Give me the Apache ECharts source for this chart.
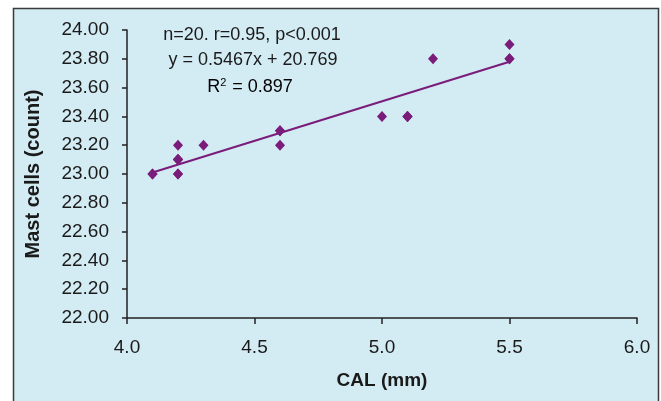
<!DOCTYPE html>
<html>
<head>
<meta charset="utf-8">
<script src="https://cdn.jsdelivr.net/npm/echarts@6/dist/echarts.min.js"></script>
<style>
  html, body { margin: 0; padding: 0; background: #fff; }
  #chart { width: 661px; height: 401px; }
</style>
</head>
<body>
<div id="chart"></div>
<script>
// CAL (mm) vs mast cell count, n = 20 (some points overlap)
var calValues = [4.1, 4.1, 4.2, 4.2, 4.2, 4.2, 4.2, 4.3, 4.6, 4.6, 4.6, 5.0, 5.1, 5.1, 5.2, 5.5, 5.5, 5.5, 4.2, 5.1];
var mastValues = [23.0, 23.0, 23.2, 23.1, 23.1, 23.0, 23.0, 23.2, 23.3, 23.3, 23.2, 23.4, 23.4, 23.4, 23.8, 23.9, 23.8, 23.8, 23.1, 23.4];
// trendline end points
var trendX = [4.1, 5.5];
var trendY = [23.01, 23.78];
var noteLines = ['n=20. r=0.95, p<0.001', 'y = 0.5467x + 20.769'];

var purple = '#7a1c7a';
var fontFamily = 'Liberation Sans, Arial, sans-serif';

var myChart = echarts.init(document.getElementById('chart'));

var option = {
    backgroundColor: '#fff',
    animation: false,
    textStyle: { fontFamily: fontFamily },
    grid: { left: 127, right: 24, top: 30, bottom: 83 },
    graphic: [
        {
            type: 'rect',
            z: -10,
            silent: true,
            shape: { x: 13.5, y: 8.5, width: 645, height: 400 },
            style: { fill: '#d3ebf3', stroke: '#3a3a3a', lineWidth: 1.5 }
        },
        {
            type: 'text', x: 252, y: 35, z: 10,
            style: { text: noteLines[0], font: '18px ' + fontFamily, fill: '#1a1a1a', align: 'center', verticalAlign: 'middle' }
        },
        {
            type: 'text', x: 253, y: 60, z: 10,
            style: { text: noteLines[1], font: '18px ' + fontFamily, fill: '#1a1a1a', align: 'center', verticalAlign: 'middle' }
        },
        {
            type: 'text', x: 250, y: 87, z: 10,
            style: {
                text: '{n|R}{s|2}{n| = 0.897}',
                align: 'center', verticalAlign: 'middle',
                rich: {
                    n: { fontSize: 18, fontFamily: fontFamily, color: '#1a1a1a' },
                    s: { fontSize: 11, fontFamily: fontFamily, color: '#1a1a1a', verticalAlign: 'top', padding: [0, 1, 9, 0] }
                }
            }
        }
    ],
    xAxis: {
        type: 'value',
        min: 4.0,
        max: 6.0,
        interval: 0.5,
        name: 'CAL (mm)',
        nameLocation: 'middle',
        nameGap: 53,
        nameTextStyle: { fontSize: 19, fontWeight: 'bold', color: '#1a1a1a' },
        splitLine: { show: false },
        axisLine: { lineStyle: { color: '#222', width: 1.5 } },
        axisTick: { show: true, length: 6, lineStyle: { color: '#222', width: 1.5 } },
        axisLabel: {
            fontSize: 19, color: '#1a1a1a', margin: 20,
            formatter: function (v) { return v.toFixed(1); }
        }
    },
    yAxis: {
        type: 'value',
        min: 22.0,
        max: 24.0,
        interval: 0.2,
        name: 'Mast cells (count)',
        nameLocation: 'middle',
        nameGap: 84,
        nameTextStyle: { fontSize: 20, fontWeight: 'bold', color: '#1a1a1a' },
        splitLine: { show: false },
        axisLine: { show: true, lineStyle: { color: '#222', width: 1.5 } },
        axisTick: { show: true, length: 5, lineStyle: { color: '#222', width: 1.5 } },
        axisLabel: {
            fontSize: 19, color: '#1a1a1a', margin: 18,
            formatter: function (v) { return v.toFixed(2); }
        }
    },
    series: [
        {
            type: 'line',
            data: trendX.map(function (x, i) { return [x, trendY[i]]; }),
            symbol: 'none',
            lineStyle: { color: purple, width: 2 },
            z: 2
        },
        {
            type: 'scatter',
            data: calValues.map(function (x, i) { return [x, mastValues[i]]; }),
            symbol: 'diamond',
            symbolSize: [10, 11],
            itemStyle: { color: purple, opacity: 1 },
            z: 3
        }
    ]
};

myChart.setOption(option);
</script>
</body>
</html>
